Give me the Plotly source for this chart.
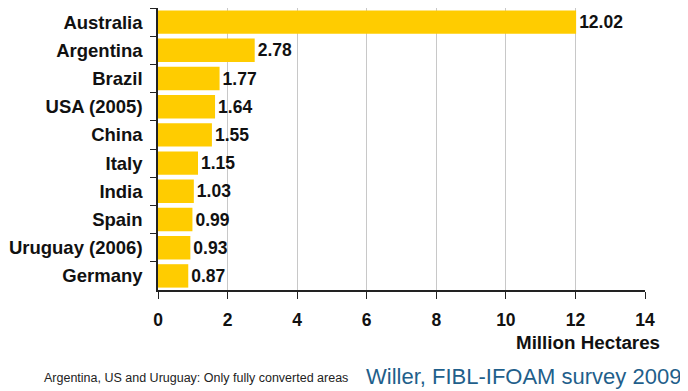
import plotly.graph_objects as go

countries = ["Australia", "Argentina", "Brazil", "USA (2005)", "China", "Italy",
             "India", "Spain", "Uruguay (2006)", "Germany"]
hectares = [12.02, 2.78, 1.77, 1.64, 1.55, 1.15, 1.03, 0.99, 0.93, 0.87]
labels = ["12.02", "2.78", "1.77", "1.64", "1.55", "1.15", "1.03", "0.99", "0.93", "0.87"]
x_ticks = [0, 2, 4, 6, 8, 10, 12, 14]

FONT = "Liberation Sans, Arial, sans-serif"

fig = go.Figure(go.Bar(
    x=hectares, y=countries, orientation="h",
    marker=dict(color="#FFCC00", line=dict(width=0)),
    text=labels, textposition="outside", cliponaxis=False,
    textfont=dict(family=FONT, size=17.5, color="#111111", weight="bold"),
))

# page body has an 8px margin, so the figure is sized to fit the window
fig.update_layout(
    width=680, height=383,
    margin=dict(l=150, r=43, t=0, b=101, autoexpand=False),
    paper_bgcolor="white", plot_bgcolor="white",
    showlegend=False, bargap=0.17,
    font=dict(family=FONT, color="#111111"),
    xaxis=dict(range=[0, 14], tickvals=x_ticks, showgrid=True, gridcolor="#C8C8C8",
               gridwidth=1, zeroline=False, showline=True, linecolor="#222222", linewidth=1.5,
               ticks="outside", ticklen=7, tickcolor="#222222", automargin=False,
               ticklabelstandoff=6,
               tickfont=dict(family=FONT, size=17.5, color="#111111", weight="bold")),
    yaxis=dict(autorange="reversed", showline=True, linecolor="#222222", linewidth=1.5,
               ticks="outside", ticklen=6, tickcolor="#222222", tickson="boundaries",
               showgrid=False, automargin=False, ticklabelstandoff=10,
               tickfont=dict(family=FONT, size=18.5, color="#111111", weight="bold")),
    annotations=[
        dict(text="Million Hectares", xref="paper", yref="paper", x=1.035, y=-0.186,
             xanchor="right", yanchor="middle", showarrow=False,
             font=dict(family=FONT, size=18.8, color="#111111", weight="bold")),
        dict(text="Argentina, US and Uruguay: Only fully converted areas", xref="paper",
             yref="paper", x=-0.238, y=-0.312, xanchor="left", yanchor="middle",
             showarrow=False, font=dict(family=FONT, size=12.5, color="#222222")),
        dict(text="Willer, FIBL-IFOAM survey 2009", xref="paper", yref="paper",
             x=1.078, y=-0.305, xanchor="right", yanchor="middle", showarrow=False,
             font=dict(family=FONT, size=22, color="#1F5F8B")),
    ],
)

fig.write_html("out.html")
